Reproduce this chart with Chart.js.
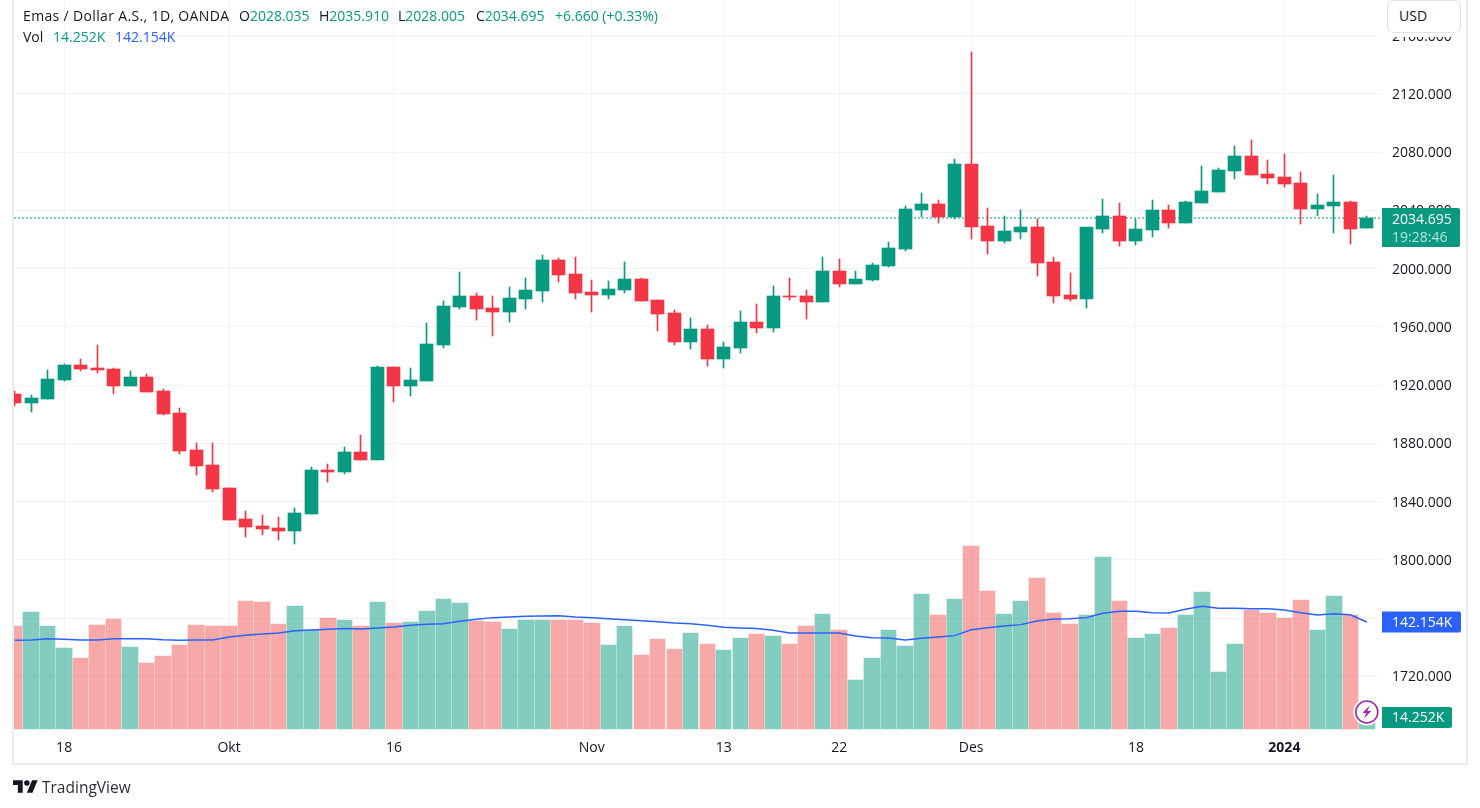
<!DOCTYPE html>
<html>
<head>
<meta charset="utf-8">
<title>Emas / Dollar A.S.</title>
<script src="https://cdn.jsdelivr.net/npm/chart.js@4"></script>
<style>
    html, body { margin: 0; padding: 0; background: #fff; }
    #wrap { position: relative; width: 1480px; height: 808px; overflow: hidden; font-family: "Open Sans", sans-serif; color: #131722; }
    #chart { position: absolute; left: 0; top: 0; }
    #frame { position: absolute; left: 12px; top: -4px; width: 1452px; height: 765px; border: 2px solid #e9ebf2; pointer-events: none; }
    .t { position: absolute; font-size: 14px; line-height: 16px; white-space: nowrap; }
    .g { color: #089981; }
    .b { color: #2962ff; }
    #usd { position: absolute; left: 1387px; top: 0; width: 74px; height: 33px; box-sizing: border-box; border: 1px solid #e0e3eb; border-radius: 6px; background: #fff; font-size: 14px; line-height: 30px; padding-left: 11px; }
    #logo { position: absolute; left: 13px; top: 780px; }
    #brand { position: absolute; left: 42px; top: 778px; font-size: 15.5px; line-height: 18px; color: #2a2e39; }
</style>
</head>
<body>
<div id="wrap">
    <canvas id="chart" width="1480" height="808"></canvas>
    <div id="frame"></div>
    <div class="t" style="left:23px;top:8px;letter-spacing:0.35px">Emas / Dollar A.S., 1D, OANDA</div>
    <div class="t" style="left:239px;top:8px">O<span class="g">2028.035</span></div>
    <div class="t" style="left:319px;top:8px">H<span class="g">2035.910</span></div>
    <div class="t" style="left:398px;top:8px">L<span class="g">2028.005</span></div>
    <div class="t" style="left:476px;top:8px">C<span class="g">2034.695</span></div>
    <div class="t g" style="left:555px;top:8px">+6.660 (+0.33%)</div>
    <div class="t" style="left:23px;top:29px">Vol</div>
    <div class="t g" style="left:53px;top:29px">14.252K</div>
    <div class="t b" style="left:115px;top:29px">142.154K</div>
    <div id="usd">USD</div>
    <svg id="logo" width="25" height="13" viewBox="0 4 36 18"><path fill="#131722" d="M14 22H7V11H0V4h14v18zM28 22h-8l7.5-18h8L28 22z"/><circle fill="#131722" cx="20" cy="8" r="4"/></svg>
    <div id="brand">TradingView</div>
</div>
<script>
// daily candles, Sep 2023 - Jan 2024
const opens = [1913.8,1907.6,1910.4,1923.4,1933.7,1931.7,1931.0,1919.3,1925.5,1915.9,1900.8,1875.4,1865.1,1849.3,1828.0,1823.2,1821.8,1819.7,1831.4,1861.6,1860.3,1874.0,1868.5,1932.4,1919.3,1922.7,1947.5,1973.6,1981.1,1972.9,1970.1,1979.1,1984.5,2005.8,1996.2,1983.9,1981.8,1985.2,1992.8,1978.4,1969.4,1949.5,1958.5,1937.9,1945.4,1963.3,1959.1,1981.1,1981.1,1977.0,1998.3,1989.4,1992.1,2001.7,2013.4,2040.2,2044.3,2035.4,2071.8,2029.2,2018.9,2025.1,2028.5,2004.5,1981.8,1979.1,2027.1,2036.1,2018.9,2026.4,2040.2,2031.2,2045.0,2052.5,2067.0,2077.3,2064.9,2062.8,2058.7,2040.9,2043.0,2045.7,2028.035];
const highs = [1915.9,1913.1,1930.3,1934.4,1937.9,1947.5,1931.7,1929.6,1927.6,1917.3,1904.2,1880.2,1880.2,1849.3,1833.5,1830.7,1829.4,1835.5,1863.7,1865.8,1877.4,1885.7,1933.0,1932.4,1931.7,1962.6,1977.7,1997.6,1983.2,1981.1,1987.3,1993.5,2009.3,2007.2,2007.9,1992.1,1991.4,2004.5,1993.5,1978.4,1971.5,1966.0,1961.2,1949.5,1970.8,1975.6,1988.0,1993.5,1985.2,2007.9,2006.5,1998.3,2003.8,2018.2,2042.9,2051.8,2047.0,2075.2,2148.7,2041.5,2036.1,2040.2,2034.0,2007.9,1996.9,2027.8,2047.7,2045.0,2034.0,2047.0,2043.6,2046.4,2070.4,2069.0,2084.1,2088.2,2074.5,2078.6,2066.3,2051.2,2064.2,2046.4,2035.91];
const lows = [1905.6,1901.5,1910.4,1922.7,1929.6,1928.2,1913.8,1919.3,1915.2,1899.4,1872.6,1858.2,1846.5,1827.3,1815.6,1817.0,1813.6,1810.8,1831.4,1853.4,1858.9,1868.5,1868.5,1908.3,1912.4,1922.7,1945.4,1972.2,1964.6,1953.6,1963.3,1972.2,1977.0,1990.7,1979.1,1970.1,1979.1,1983.2,1977.7,1957.1,1947.5,1944.7,1933.0,1931.7,1942.0,1955.7,1956.4,1978.4,1965.3,1977.0,1987.3,1989.4,1991.4,2001.0,2012.0,2035.4,2031.2,2034.0,2020.3,2010.0,2017.5,2020.3,1994.8,1976.3,1977.7,1972.9,2024.4,2015.5,2016.1,2021.6,2027.8,2031.2,2045.0,2052.5,2061.5,2064.2,2058.0,2056.0,2030.6,2036.1,2024.4,2016.8,2028.005];
const closes = [1907.6,1911.1,1924.1,1933.7,1931.0,1930.3,1919.3,1925.5,1915.2,1900.1,1874.7,1864.4,1848.6,1827.3,1822.5,1821.1,1819.7,1832.1,1861.6,1860.3,1874.0,1868.5,1932.4,1919.3,1923.4,1948.2,1974.2,1981.1,1972.2,1970.1,1979.7,1985.2,2005.8,1995.5,1983.2,1981.8,1985.9,1992.8,1977.7,1968.8,1949.5,1958.5,1937.9,1946.1,1963.3,1959.1,1981.1,1980.4,1977.0,1998.3,1989.4,1992.8,2002.4,2014.1,2040.9,2044.3,2035.4,2071.8,2028.5,2018.9,2025.8,2028.5,2003.8,1981.1,1979.1,2028.5,2036.1,2018.9,2027.1,2040.2,2031.2,2045.7,2053.2,2067.6,2077.3,2064.2,2062.1,2058.0,2040.9,2043.6,2045.7,2027.1,2034.695];
// volume in K
const volumes = [136.8,155.4,136.8,107.6,94.3,138.1,146.1,108.9,87.7,97.0,111.6,138.1,136.8,136.8,170.0,168.7,139.5,163.4,131.5,147.4,144.8,136.8,168.7,140.8,142.1,156.7,172.7,167.3,143.4,142.1,132.8,144.8,144.8,144.8,144.8,140.8,111.6,136.8,98.3,119.5,106.2,127.5,112.9,104.9,120.9,126.2,123.5,112.9,136.8,152.7,131.5,65.1,94.3,131.5,110.2,179.3,151.4,172.7,243.0,183.3,152.7,170.0,200.5,154.1,139.5,151.4,228.4,170.0,120.9,126.2,134.1,151.4,182.0,75.7,112.9,158.0,154.1,147.4,171.3,131.5,176.6,151.4,14.252];
const volumeMa = [117.8,118.2,120.0,119.1,118.2,118.2,120.0,120.0,120.0,118.6,117.8,118.2,118.2,122.2,124.4,126.2,127.5,130.6,131.5,132.4,133.3,132.8,134.1,135.5,137.7,139.0,139.9,143.0,145.6,147.9,148.7,149.6,150.1,150.5,148.7,147.9,146.5,145.2,143.9,142.5,140.8,139.9,137.7,135.0,134.1,133.3,131.0,127.5,127.5,127.5,127.5,123.5,121.3,120.9,118.2,120.4,122.2,124.0,131.9,134.6,136.8,138.6,143.4,146.1,146.5,147.9,153.6,156.3,156.3,154.5,154.1,158.9,162.9,160.3,160.3,159.8,159.8,158.0,154.5,151.4,153.2,151.8,142.154];
const timeTickIndex = [3, 13, 23, 35, 43, 50, 58, 68, 77];
const timeTickLabels = ['18', 'Okt', '16', 'Nov', '13', '22', 'Des', '18', '2024'];
const lastPrice = 2034.695;

const UP = '#089981', DOWN = '#f23645';
const UP_VOL = 'rgba(8,153,129,0.5)', DOWN_VOL = 'rgba(239,83,80,0.5)';
const GRID = '#f0f3fa';
const FONT = '"Open Sans", sans-serif';
const X_MIN = -0.04, X_MAX = 82.86;

const isUp = i => closes[i] >= opens[i];
const indexes = opens.map((_, i) => i);

// snap bars to whole pixels so bodies and wicks stay crisp
const snapBars = {
    id: 'snapBars',
    afterDatasetsUpdate(chart) {
        chart.data.datasets.forEach((ds, d) => {
            if (ds.type !== 'bar') return;
            chart.getDatasetMeta(d).data.forEach(el => {
                const l = Math.round(el.x - el.width / 2), r = Math.round(el.x + el.width / 2);
                el.x = (l + r) / 2;
                el.width = r - l;
                el.y = Math.round(el.y);
                el.base = Math.round(el.base);
                if (el.y === el.base) el.base += 1;
            });
        });
    }
};

function tag(ctx, x, y, w, h, color, lines) {
    ctx.fillStyle = color;
    ctx.beginPath();
    ctx.roundRect(x, y, w, h, [0, 2, 2, 0]);
    ctx.fill();
    ctx.textBaseline = 'middle';
    ctx.textAlign = 'left';
    ctx.font = '14px ' + FONT;
    lines.forEach(l => {
        ctx.fillStyle = l.color || '#fff';
        ctx.fillText(l.text, x + 10, l.y);
    });
}

// last value tags on the right axis, and the small bolt badge
const axisTags = {
    id: 'axisTags',
    afterDraw(chart) {
        const ctx = chart.ctx, price = chart.scales.y, vol = chart.scales.vol;
        const n = opens.length - 1;
        ctx.save();
        ctx.fillStyle = '#fff';
        ctx.fillRect(1382, 0, 84, 37);

        const py = price.getPixelForValue(lastPrice);
        tag(ctx, 1382, py - 10, 78, 39, UP, [
            { text: lastPrice.toFixed(3), y: py + 2 },
            { text: '19:28:46', y: py + 20, color: 'rgba(255,255,255,0.72)' }
        ]);
        const my = vol.getPixelForValue(volumeMa[n]);
        tag(ctx, 1382, my - 10.5, 79, 21, '#2962ff', [{ text: volumeMa[n].toFixed(3) + 'K', y: my + 1 }]);
        tag(ctx, 1382, 707, 70, 21, UP, [{ text: volumes[n].toFixed(3) + 'K', y: 718.5 }]);

        const cx = chart.scales.x.getPixelForValue(n), cy = 712;
        ctx.beginPath();
        ctx.arc(cx, cy, 13.5, 0, Math.PI * 2);
        ctx.fillStyle = '#fff';
        ctx.fill();
        ctx.beginPath();
        ctx.arc(cx, cy, 11, 0, Math.PI * 2);
        ctx.lineWidth = 1.6;
        ctx.strokeStyle = '#9c27b0';
        ctx.stroke();
        ctx.beginPath();
        ctx.moveTo(cx + 3, cy - 6.5);
        ctx.lineTo(cx - 4.5, cy + 1);
        ctx.lineTo(cx - 0.5, cy + 1);
        ctx.lineTo(cx - 3, cy + 6.5);
        ctx.lineTo(cx + 4.5, cy - 1);
        ctx.lineTo(cx + 0.5, cy - 1);
        ctx.closePath();
        ctx.fillStyle = '#9c27b0';
        ctx.fill();
        ctx.restore();
    }
};

new Chart(document.getElementById('chart').getContext('2d'), {
    data: {
        datasets: [
            {
                type: 'bar', order: 5, yAxisID: 'vol', grouped: false, barThickness: 15.4,
                data: indexes.map(i => ({ x: i, y: volumes[i] })),
                backgroundColor: indexes.map(i => isUp(i) ? UP_VOL : DOWN_VOL)
            },
            {
                type: 'line', order: 4, yAxisID: 'vol',
                data: indexes.map(i => ({ x: i, y: volumeMa[i] })),
                borderColor: '#2962ff', borderWidth: 1.5, pointRadius: 0, tension: 0
            },
            {
                type: 'line', order: 3, yAxisID: 'y',
                data: [{ x: X_MIN, y: lastPrice }, { x: X_MAX, y: lastPrice }],
                borderColor: UP, borderWidth: 1, borderDash: [2, 2], pointRadius: 0
            },
            {
                type: 'bar', order: 2, yAxisID: 'y', grouped: false, barThickness: 1,
                data: indexes.map(i => ({ x: i, y: [lows[i], highs[i]] })),
                backgroundColor: indexes.map(i => isUp(i) ? UP : DOWN)
            },
            {
                type: 'bar', order: 1, yAxisID: 'y', grouped: false, barThickness: 13,
                data: indexes.map(i => ({ x: i, y: [opens[i], closes[i]] })),
                backgroundColor: indexes.map(i => isUp(i) ? UP : DOWN)
            }
        ]
    },
    plugins: [snapBars, axisTags],
    options: {
        responsive: false,
        animation: false,
        events: [],
        layout: { padding: { left: 14, top: 0, right: 13, bottom: 44 } },
        plugins: { legend: { display: false }, tooltip: { enabled: false } },
        scales: {
            x: {
                type: 'linear',
                offset: false,
                min: X_MIN,
                max: X_MAX,
                afterBuildTicks: s => { s.ticks = timeTickIndex.map(v => ({ value: v })); },
                afterFit: s => { s.height = 34; s.paddingLeft = 0; s.paddingRight = 0; },
                border: { display: false },
                grid: { color: GRID, drawTicks: false, offset: false },
                ticks: {
                    autoSkip: false,
                    maxRotation: 0,
                    padding: 10,
                    color: '#131722',
                    font: c => ({ family: FONT, size: 14, weight: c.tick && c.tick.label === '2024' ? 'bold' : 'normal' }),
                    callback: v => timeTickLabels[timeTickIndex.indexOf(v)]
                }
            },
            y: {
                type: 'linear',
                position: 'right',
                min: 1683.1,
                max: 2184.4,
                afterFit: s => { s.width = 86; s.paddingTop = 0; s.paddingBottom = 0; },
                border: { display: false },
                grid: { color: GRID, drawTicks: false },
                ticks: {
                    stepSize: 40,
                    includeBounds: false,
                    padding: 11,
                    labelOffset: 1,
                    color: '#131722',
                    font: { family: FONT, size: 14 },
                    callback: v => v >= 1720 ? v.toFixed(3) : ''
                }
            },
            vol: {
                type: 'linear',
                display: false,
                position: 'right',
                min: -1.33,
                max: 968.1,
                grid: { display: false }
            }
        }
    }
});
</script>
</body>
</html>
